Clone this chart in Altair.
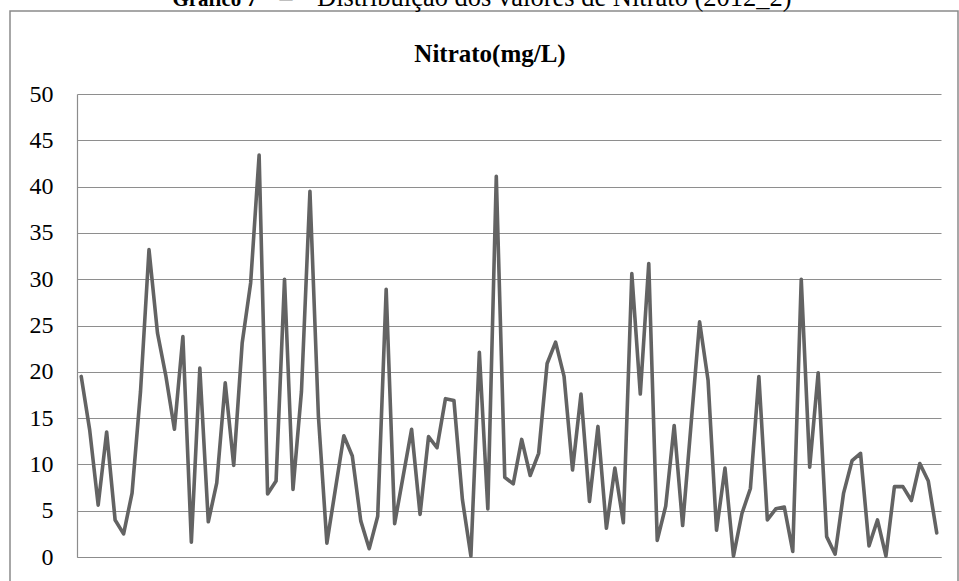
import altair as alt
import pandas as pd

amostra = list(range(1, 103))
nitrato = [19.5, 13.7, 5.6, 13.5, 4.0, 2.5, 6.9, 17.9, 33.2, 24.2,
           19.5, 13.8, 23.8, 1.6, 20.4, 3.8, 8.0, 18.8, 9.9, 23.1,
           29.6, 43.4, 6.8, 8.2, 30.0, 7.3, 17.9, 39.5, 15.2, 1.5,
           7.3, 13.1, 10.9, 3.9, 0.9, 4.4, 28.9, 3.6, 8.7, 13.8,
           4.6, 13.0, 11.8, 17.1, 16.9, 6.2, 0.1, 22.1, 5.2, 41.1,
           8.6, 7.9, 12.7, 8.8, 11.2, 20.9, 23.2, 19.5, 9.4, 17.6,
           6.0, 14.1, 3.1, 9.6, 3.7, 30.6, 17.6, 31.7, 1.8, 5.5,
           14.2, 3.4, 14.4, 25.4, 19.1, 2.9, 9.6, 0.1, 4.7, 7.4,
           19.5, 4.0, 5.2, 5.4, 0.6, 30.0, 9.7, 19.9, 2.2, 0.3,
           6.9, 10.4, 11.2, 1.2, 4.0, 0.1, 7.6, 7.6, 6.1, 10.1,
           8.2, 2.6]
y_ticks = [0, 5, 10, 15, 20, 25, 30, 35, 40, 45, 50]
titulo_negrito = "Gráfico 7"
titulo_traco = "–"
titulo_resto = "Distribuição dos valores de Nitrato (2012_2)"
subtitulo = "Nitrato(mg/L)"

df = pd.DataFrame({"amostra": amostra, "nitrato": nitrato})
one = pd.DataFrame({"k": [0]})

W, H = 864, 463
FONT = "Liberation Serif"

frame = alt.Chart(one).mark_rect(
    fill=None, stroke="#8a8a8a", strokeWidth=1.5
).encode(
    x=alt.value(-67), x2=alt.value(881), y=alt.value(-83), y2=alt.value(530)
)

line = alt.Chart(df).mark_line(
    color="#636363", strokeWidth=3.6, strokeJoin="round", strokeCap="round"
).encode(
    x=alt.X("amostra:Q", scale=alt.Scale(domain=[0.5, 102.5], nice=False, zero=False),
            axis=alt.Axis(title=None, labels=False, ticks=False, grid=False,
                          domainColor="#8c8c8c", domainWidth=1.2)),
    y=alt.Y("nitrato:Q", scale=alt.Scale(domain=[0, 50], nice=False),
            axis=alt.Axis(title=None, values=y_ticks, ticks=False, labelPadding=24,
                          labelFont=FONT, labelFontSize=24, labelColor="#000000",
                          gridColor="#8e8e8e", gridWidth=1.2,
                          domainColor="#8c8c8c", domainWidth=1.2)),
)

sub_title = alt.Chart(one).mark_text(
    text=subtitulo, font=FONT, fontSize=25, fontWeight="bold",
    align="center", baseline="middle", color="#000000"
).encode(x=alt.value(413), y=alt.value(-40))

title_bold = alt.Chart(one).mark_text(
    text=titulo_negrito, font=FONT, fontSize=21, fontWeight="bold",
    align="right", baseline="alphabetic", color="#000000"
).encode(x=alt.value(180), y=alt.value(-88))

title_dash = alt.Chart(one).mark_text(
    text=titulo_traco, font=FONT, fontSize=26,
    align="center", baseline="alphabetic", color="#000000"
).encode(x=alt.value(209), y=alt.value(-88))

title_reg = alt.Chart(one).mark_text(
    text=titulo_resto, font=FONT, fontSize=26.5,
    align="left", baseline="alphabetic", color="#000000"
).encode(x=alt.value(240), y=alt.value(-88))

chart = alt.layer(frame, line, sub_title, title_bold, title_dash, title_reg).properties(
    width=W, height=H,
    autosize=alt.AutoSizeParams(type="none"),
    padding={"left": 77, "top": 94, "right": 18, "bottom": 24},
    background="#ffffff",
).configure_view(stroke=None)

chart.save("out.html", embed_options={"renderer": "svg", "actions": False})
